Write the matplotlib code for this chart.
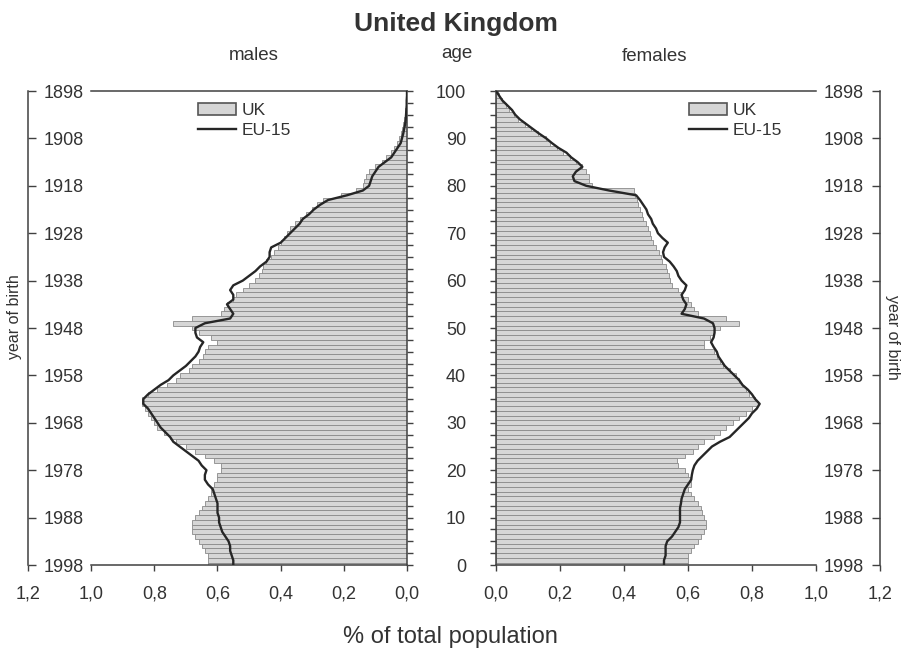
import numpy as np
import matplotlib
matplotlib.use('Agg')
import matplotlib.pyplot as plt
import matplotlib.patches as mpatches
from matplotlib.lines import Line2D
from matplotlib.ticker import FixedLocator, FixedFormatter, FuncFormatter

plt.rcParams['font.family'] = ['Liberation Sans', 'DejaVu Sans']

# ---------------- data (ages 0..100, % of total population) ----------------
ages = list(range(0, 101))

male_uk = [0.63, 0.63, 0.63, 0.64, 0.65, 0.66, 0.67, 0.68, 0.68, 0.68,
           0.67, 0.66, 0.65, 0.64, 0.63, 0.62, 0.62, 0.61, 0.60, 0.60,
           0.59, 0.59, 0.61, 0.64, 0.67, 0.70, 0.73, 0.75, 0.77, 0.79,
           0.80, 0.81, 0.82, 0.83, 0.84, 0.84, 0.82, 0.79, 0.76, 0.73,
           0.72, 0.69, 0.68, 0.66, 0.645, 0.64, 0.63, 0.60, 0.62, 0.66,
           0.68, 0.74, 0.68, 0.59, 0.58, 0.57, 0.55, 0.54, 0.52, 0.50,
           0.48, 0.47, 0.46, 0.455, 0.445, 0.43, 0.42, 0.41, 0.40, 0.39,
           0.38, 0.37, 0.355, 0.34, 0.32, 0.30, 0.285, 0.265, 0.21, 0.16,
           0.14, 0.135, 0.13, 0.12, 0.10, 0.08, 0.065, 0.05, 0.04, 0.032,
           0.025, 0.02, 0.015, 0.012, 0.009, 0.007, 0.005, 0.004, 0.003, 0.002,
           0.001]

male_eu15 = [0.55, 0.55, 0.555, 0.56, 0.56, 0.565, 0.575, 0.585, 0.59, 0.595,
             0.595, 0.60, 0.60, 0.60, 0.605, 0.61, 0.615, 0.63, 0.64, 0.64,
             0.635, 0.65, 0.66, 0.68, 0.70, 0.72, 0.74, 0.75, 0.765, 0.78,
             0.79, 0.80, 0.81, 0.82, 0.835, 0.835, 0.82, 0.80, 0.78, 0.755,
             0.74, 0.72, 0.70, 0.685, 0.67, 0.66, 0.655, 0.645, 0.665, 0.67,
             0.67, 0.64, 0.56, 0.55, 0.56, 0.57, 0.55, 0.55, 0.56, 0.55,
             0.52, 0.50, 0.48, 0.465, 0.445, 0.435, 0.435, 0.43, 0.40, 0.385,
             0.37, 0.355, 0.34, 0.33, 0.31, 0.295, 0.275, 0.25, 0.19, 0.14,
             0.12, 0.115, 0.11, 0.10, 0.09, 0.07, 0.05, 0.04, 0.03, 0.02,
             0.016, 0.012, 0.009, 0.006, 0.004, 0.003, 0.002, 0.001, 0.001, 0.0,
             0.0]

female_uk = [0.60, 0.60, 0.60, 0.61, 0.62, 0.63, 0.64, 0.65, 0.655, 0.655,
             0.65, 0.645, 0.64, 0.63, 0.62, 0.61, 0.60, 0.61, 0.61, 0.60,
             0.59, 0.57, 0.565, 0.59, 0.615, 0.63, 0.65, 0.68, 0.70, 0.72,
             0.74, 0.76, 0.78, 0.80, 0.82, 0.81, 0.79, 0.78, 0.77, 0.76,
             0.75, 0.73, 0.71, 0.70, 0.69, 0.68, 0.65, 0.65, 0.67, 0.68,
             0.70, 0.76, 0.72, 0.63, 0.62, 0.61, 0.60, 0.58, 0.57, 0.55,
             0.545, 0.54, 0.535, 0.53, 0.52, 0.515, 0.51, 0.50, 0.49, 0.485,
             0.48, 0.475, 0.47, 0.46, 0.455, 0.45, 0.445, 0.44, 0.435, 0.43,
             0.30, 0.29, 0.29, 0.28, 0.27, 0.25, 0.23, 0.21, 0.19, 0.17,
             0.155, 0.13, 0.11, 0.09, 0.07, 0.055, 0.04, 0.03, 0.02, 0.01,
             0.005]

female_eu15 = [0.525, 0.525, 0.53, 0.53, 0.53, 0.535, 0.55, 0.56, 0.57, 0.575,
               0.575, 0.575, 0.575, 0.578, 0.58, 0.585, 0.59, 0.60, 0.61, 0.612,
               0.615, 0.62, 0.63, 0.645, 0.66, 0.675, 0.70, 0.73, 0.745, 0.76,
               0.775, 0.79, 0.80, 0.815, 0.824, 0.81, 0.80, 0.787, 0.77, 0.76,
               0.745, 0.73, 0.715, 0.705, 0.695, 0.69, 0.68, 0.672, 0.68, 0.683,
               0.683, 0.678, 0.65, 0.58, 0.59, 0.595, 0.585, 0.58, 0.59, 0.595,
               0.58, 0.57, 0.565, 0.555, 0.543, 0.525, 0.522, 0.527, 0.537, 0.52,
               0.506, 0.50, 0.49, 0.485, 0.475, 0.47, 0.46, 0.45, 0.438, 0.354,
               0.282, 0.245, 0.24, 0.25, 0.27, 0.255, 0.235, 0.22, 0.195, 0.175,
               0.157, 0.135, 0.115, 0.095, 0.075, 0.06, 0.05, 0.035, 0.02, 0.01,
               0.0]

pct_ticks = [0.0, 0.2, 0.4, 0.6, 0.8, 1.0, 1.2]
pct_labels = ['0,0', '0,2', '0,4', '0,6', '0,8', '1,0', '1,2']
age_ticks = [0, 10, 20, 30, 40, 50, 60, 70, 80, 90, 100]
age_labels = ['0', '10', '20', '30', '40', '50', '60', '70', '80', '90', '100']
birth_years = ['1998', '1988', '1978', '1968', '1958', '1948',
               '1938', '1928', '1918', '1908', '1898']

# ---------------- style ----------------
TXT = '#333333'
SPINE = '#404040'
BAR_FACE = '#d6d6d6'
BAR_EDGE = '#8a8a8a'
LINE = '#262626'
FS = 13

fig = plt.figure(figsize=(9.11, 6.51), dpi=100)
axL = fig.add_axes([28 / 911, 1 - 565 / 651, 379 / 911, 474 / 651])
axR = fig.add_axes([496 / 911, 1 - 565 / 651, 384 / 911, 474 / 651])

minor_loc = np.arange(0, 100.01, 2.5)


def common(ax, uk, eu, year_side, mid_side):
    ax.barh(ages, uk, height=1.0, color=BAR_FACE, edgecolor=BAR_EDGE,
            linewidth=0.6, zorder=1)
    ax.plot(eu, ages, color=LINE, lw=1.7, zorder=3)
    ax.set_ylim(0, 100)
    for s in ax.spines.values():
        s.set_color(SPINE)
        s.set_linewidth(1.1)
    ax.spines['top'].set_bounds(0, 1.0)
    ax.spines['bottom'].set_bounds(0, 1.0)
    ax.set_xticks(pct_ticks, pct_labels)
    ax.tick_params(axis='x', direction='out', length=4.5, width=1.0,
                   colors=TXT, labelsize=FS, pad=10)
    ax.tick_params(axis='x', colors=SPINE, labelcolor=TXT)
    ax.yaxis.remove_overlapping_locs = False
    ax.yaxis.set_major_locator(FixedLocator(age_ticks))
    ax.yaxis.set_major_formatter(FixedFormatter(birth_years))
    ax.yaxis.set_minor_locator(FixedLocator(minor_loc))
    kw_year = {year_side: True, 'label' + year_side: True}
    other = 'right' if year_side == 'left' else 'left'
    kw_year.update({other: False, 'label' + other: False})
    ax.tick_params(axis='y', which='major', direction='in', length=6,
                   width=1.0, pad=-11.5, labelsize=FS, color=SPINE,
                   labelcolor=TXT, **kw_year)
    kw_mid = {mid_side: True, year_side: False, 'label' + year_side: False}
    ax.tick_params(axis='y', which='minor', direction='out', length=4,
                   width=1.0, color=SPINE, labelcolor=TXT, labelsize=FS,
                   **kw_mid)


# males panel
common(axL, male_uk, male_eu15, 'left', 'right')
axL.set_xlim(1.2, 0)
axL.tick_params(axis='y', which='minor', labelright=False, labelleft=False)
for lbl in axL.yaxis.get_majorticklabels():
    lbl.set_horizontalalignment('left')

# females panel
common(axR, female_uk, female_eu15, 'right', 'left')
axR.set_xlim(0, 1.2)
age_map = dict(zip(age_ticks, age_labels))
axR.yaxis.set_minor_formatter(
    FuncFormatter(lambda v, p: age_map.get(int(round(v)), '') if abs(v % 10) < 1e-6 else ''))
axR.tick_params(axis='y', which='minor', labelleft=True, pad=17.5)
for lbl in axR.yaxis.get_majorticklabels():
    lbl.set_horizontalalignment('right')

# year-of-birth axis labels
axL.set_ylabel('year of birth', fontsize=11.5, color=TXT)
axL.yaxis.set_label_coords(-0.016, 0.525)
axR.yaxis.set_label_position('right')
axR.set_ylabel('year of birth', fontsize=11.5, color=TXT, rotation=270)
axR.yaxis.label.set_verticalalignment('bottom')
axR.yaxis.set_label_coords(1.013, 0.48)

# legends
for ax, x0 in ((axL, (198 - 28) / 379), (axR, (689 - 496) / 384)):
    handles = [mpatches.Patch(facecolor=BAR_FACE, edgecolor='#555555',
                              linewidth=1.2, label='UK'),
               Line2D([], [], color=LINE, lw=1.7, label='EU-15')]
    ax.legend(handles=handles, loc='upper left', bbox_to_anchor=(x0, 0.975),
              frameon=False, fontsize=12.5, handlelength=2.2,
              handleheight=0.65, handletextpad=0.3, labelspacing=0.3,
              borderpad=0, borderaxespad=0, labelcolor=TXT)

# titles and labels
fig.text(0.5, 1 - 31 / 651, 'United Kingdom', ha='center', va='baseline',
         fontsize=19, fontweight='bold', color=TXT)
fig.text(254 / 911, 1 - 60 / 651, 'males', ha='center', va='baseline',
         fontsize=13.5, color=TXT)
fig.text(655 / 911, 1 - 61 / 651, 'females', ha='center', va='baseline',
         fontsize=13.5, color=TXT)
fig.text(457 / 911, 1 - 58 / 651, 'age', ha='center', va='baseline',
         fontsize=13.5, color=TXT)
fig.text(450 / 911, 1 - 643 / 651, '% of total population', ha='center',
         va='baseline', fontsize=17, color=TXT)

fig.savefig('out.png', dpi=100)
